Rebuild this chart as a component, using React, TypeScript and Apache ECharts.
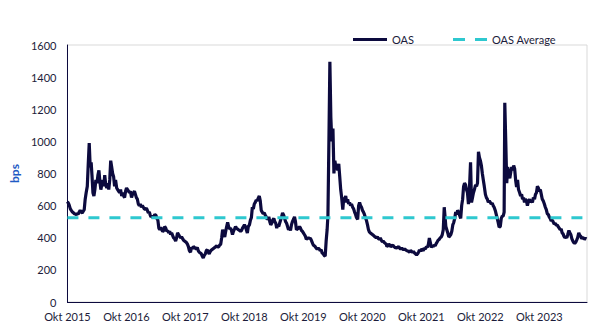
import React, { useEffect, useRef } from "react";
import * as echarts from "echarts";

// OAS readings (bps), five readings per month (days 1, 7, 13, 19, 25)
const sampleDays = [1, 7, 13, 19, 25];

const oas2015 = [625, 615, 600, 580, 570, 560, 555, 550, 548, 545, 550, 548, 560, 570, 560]; // Oct–Dec
const oas2016 = [
  555, 565, 575, 640, 680, 720, 860, 990, 840, 870, 790, 680, 660, 700, 760,
  740, 790, 820, 750, 700, 730, 760, 720, 790, 730, 710, 740, 700, 760, 880,
  840, 800, 780, 720, 760, 710, 700, 690, 680, 700, 660, 680, 660, 650, 690,
  710, 700, 690, 680, 690, 650, 670, 680, 690, 670, 650, 640, 610, 600, 610,
];
const oas2017 = [
  590, 600, 590, 580, 575, 585, 570, 555, 560, 540, 530, 535, 525, 530, 545,
  540, 520, 510, 460, 450, 465, 450, 438, 445, 470, 460, 440, 445, 430, 440,
  420, 430, 415, 400, 395, 380, 400, 430, 420, 410, 400, 405, 395, 385, 380,
  375, 370, 360, 345, 320, 310, 340, 330, 345, 340, 335, 330, 340, 320, 310,
];
const oas2018 = [
  305, 300, 285, 275, 290, 300, 320, 325, 310, 300, 310, 320, 325, 330, 335,
  340, 345, 350, 340, 345, 355, 360, 400, 450, 430, 405, 440, 470, 495, 470,
  455, 460, 445, 420, 440, 455, 470, 460, 455, 450, 445, 440, 445, 460, 470,
  480, 470, 450, 430, 470, 480, 510, 525, 590, 580, 610, 620, 635, 630, 645,
];
const oas2019 = [
  660, 630, 570, 560, 550, 555, 540, 530, 515, 520, 530, 500, 480, 490, 510,
  520, 500, 490, 460, 480, 470, 490, 510, 530, 555, 540, 520, 500, 490, 470,
  450, 460, 445, 480, 500, 515, 530, 500, 450, 455, 460, 470, 460, 445, 440,
  430, 420, 410, 390, 395, 400, 395, 398, 385, 370, 355, 350, 345, 336, 330,
];
const oas2020 = [
  335, 330, 320, 325, 305, 300, 290, 285, 380, 450, 540, 1000, 1495, 1150, 1000,
  1080, 800, 880, 840, 840, 820, 860, 780, 700, 650, 575, 650, 640, 660, 620,
  640, 610, 620, 600, 610, 590, 580, 560, 545, 525, 515, 600, 620, 600, 590,
  570, 560, 545, 525, 510, 480, 450, 435, 430, 425, 420, 415, 410, 405, 400,
];
const oas2021 = [
  405, 395, 390, 400, 385, 375, 380, 370, 365, 360, 345, 350, 360, 355, 345,
  350, 355, 345, 340, 338, 336, 340, 345, 335, 330, 335, 330, 324, 330, 325,
  320, 318, 315, 311, 320, 315, 310, 315, 305, 300, 293, 300, 310, 324, 315,
  330, 325, 320, 335, 330, 345, 340, 360, 398, 370, 340, 350, 345, 355, 350,
];
const oas2022 = [
  365, 375, 386, 390, 400, 405, 420, 450, 590, 520, 470, 450, 430, 405, 410,
  420, 440, 480, 495, 520, 560, 545, 570, 560, 540, 520, 600, 640, 720, 740,
  730, 700, 680, 610, 700, 870, 620, 650, 680, 700, 730, 720, 740, 935, 900,
  880, 850, 800, 760, 720, 670, 650, 640, 620, 630, 620, 610, 615, 600, 590,
];
const oas2023 = [
  570, 545, 520, 495, 465, 470, 520, 535, 535, 560, 1240, 1000, 740, 840, 800,
  770, 810, 840, 820, 850, 830, 760, 715, 760, 700, 680, 660, 670, 640, 650,
  620, 640, 630, 600, 625, 640, 620, 630, 620, 650, 640, 670, 680, 720, 710,
  690, 700, 670, 640, 630, 610, 590, 575, 550, 545, 530, 520, 505, 510, 500,
];
const oas2024 = [
  485, 490, 478, 480, 470, 460, 450, 455, 430, 425, 410, 400, 405, 400, 420,
  445, 430, 420, 395, 380, 370, 365, 372, 385, 400, 430, 415, 410, 395, 400,
  398, 392, 395, 392,
];

// [year, first month (0-based), readings]
const yearBlocks: [number, number, number[]][] = [
  [2015, 9, oas2015],
  [2016, 0, oas2016],
  [2017, 0, oas2017],
  [2018, 0, oas2018],
  [2019, 0, oas2019],
  [2020, 0, oas2020],
  [2021, 0, oas2021],
  [2022, 0, oas2022],
  [2023, 0, oas2023],
  [2024, 0, oas2024],
];

const axisStart = Date.UTC(2015, 9, 1);
const axisEnd = Date.UTC(2024, 6, 22);
const YEAR_MS = 365.25 * 86400000;
const labelPrefix = "Okt";

const NAVY = "#0c0a3e";
const CYAN = "#2ec8cf";
const TEXT = "#1c1c3a";
const FONT = "Lato, 'Open Sans', sans-serif";

function buildPoints(): [number, number][] {
  const pts: [number, number][] = [];
  for (const [year, firstMonth, vals] of yearBlocks) {
    vals.forEach((v, i) => {
      const month = firstMonth + Math.floor(i / 5);
      const day = sampleDays[i % 5];
      pts.push([Date.UTC(year, month, day), v]);
    });
  }
  return pts;
}

export default function App() {
  const ref = useRef<HTMLDivElement>(null);
  useEffect(() => {
    if (!ref.current) return;
    const chart = echarts.init(ref.current, undefined, { renderer: "svg" });
    const points = buildPoints();
    const avg = points.reduce((s, p) => s + p[1], 0) / points.length;
    chart.setOption({
      animation: false,
      backgroundColor: "#ffffff",
      textStyle: { fontFamily: FONT },
      grid: {
        left: 60,
        right: 15,
        top: 45,
        bottom: 31,
        show: true,
        borderColor: "#d9d9d9",
        borderWidth: 1,
        backgroundColor: "transparent",
      },
      legend: {
        left: 348,
        top: 29,
        itemWidth: 34,
        itemHeight: 3,
        itemGap: 39,
        textStyle: { color: TEXT, fontSize: 11, fontFamily: FONT, padding: [0, 0, 0, 0] },
        data: [
          { name: "OAS", icon: "path://M0,0H34V3H0Z" },
          { name: "OAS Average", icon: "path://M0,0H12V3H0ZM22,0H34V3H22Z" },
        ],
      },
      xAxis: {
        type: "value",
        min: axisStart,
        max: axisEnd,
        interval: YEAR_MS,
        axisLine: { show: true, lineStyle: { color: NAVY, width: 1 } },
        axisTick: { show: false },
        splitLine: { show: false },
        axisLabel: {
          color: TEXT,
          fontSize: 11,
          fontFamily: FONT,
          margin: 9,
          showMaxLabel: false,
          formatter: (v: number) =>
            labelPrefix + " " + new Date(v + 5 * 86400000).getUTCFullYear(),
        },
      },
      yAxis: {
        type: "value",
        min: 0,
        max: 1600,
        interval: 200,
        name: "bps",
        nameLocation: "middle",
        nameRotate: 90,
        nameGap: 38,
        nameTextStyle: { color: "#1f5bc4", fontWeight: "bold", fontSize: 12, fontFamily: FONT },
        axisLine: { show: true, lineStyle: { color: NAVY, width: 1 } },
        axisTick: { show: false },
        splitLine: { show: false },
        axisLabel: {
          color: TEXT,
          fontSize: 11,
          fontFamily: FONT,
          margin: 11,
          formatter: (v: number) => String(v),
        },
      },
      series: [
        {
          name: "OAS",
          type: "line",
          data: points,
          showSymbol: false,
          symbol: "none",
          lineStyle: { color: NAVY, width: 3.2 },
          itemStyle: { color: NAVY },
        },
        {
          name: "OAS Average",
          type: "line",
          data: [
            [axisStart, avg],
            [axisEnd, avg],
          ],
          showSymbol: false,
          symbol: "none",
          lineStyle: { color: CYAN, width: 3, type: [11, 10] },
          itemStyle: { color: CYAN },
        },
      ],
    });
    return () => chart.dispose();
  }, []);
  return (
    <div
      ref={ref}
      style={{ position: "fixed", left: 0, top: 0, width: 602, height: 333, background: "#fff" }}
    />
  );
}
